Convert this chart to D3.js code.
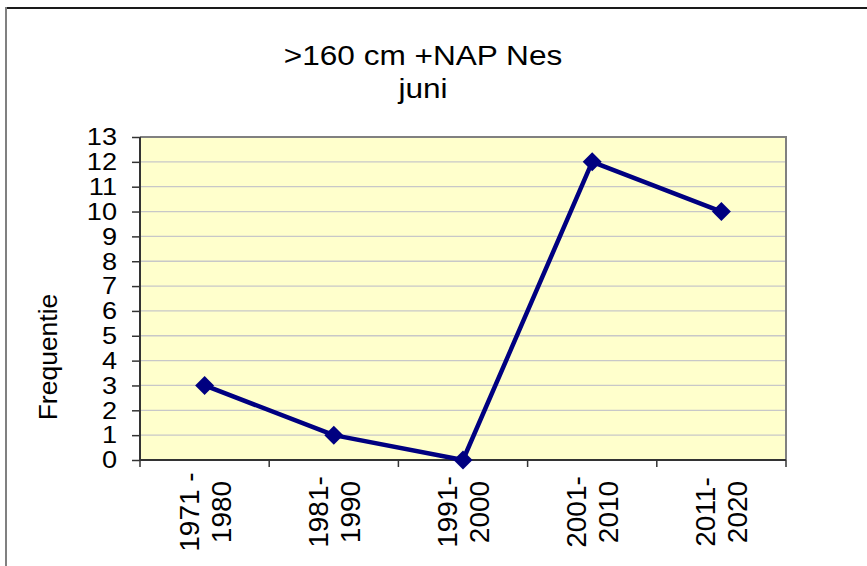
<!DOCTYPE html>
<html><head><meta charset="utf-8">
<script src="https://cdn.jsdelivr.net/npm/d3@7"></script>
<style>html,body{margin:0;padding:0;background:#fff;} text{font-family:Arial,"Liberation Sans",sans-serif;fill:#000;}</style>
</head><body><div id="chart"></div>
<script>
const titleLines = [">160 cm +NAP Nes", "juni"];
const yAxisTitle = "Frequentie";
const categories = [["1971 -","1980"],["1981-","1990"],["1991-","2000"],["2001-","2010"],["2011-","2020"]];
const values = [3, 1, 0, 12, 10];
const yTicks = d3.range(0, 14);

const W = 867, H = 566;
const plot = {left:140, right:786, top:137, bottom:460};

const svg = d3.select("#chart").append("svg").attr("width", W).attr("height", H);

// outer border (top and left visible)
svg.append("line").attr("x1",6).attr("x2",W).attr("y1",8).attr("y2",8).attr("stroke","#1a1a1a").attr("stroke-width",2);
svg.append("line").attr("x1",6).attr("x2",6).attr("y1",7).attr("y2",H).attr("stroke","#808080").attr("stroke-width",2);

const x = d3.scaleBand().domain(categories.map((d,i)=>i)).range([plot.left, plot.right]).padding(0);
const y = d3.scaleLinear().domain([0,13]).range([plot.bottom, plot.top]);

// plot background
svg.append("rect").attr("x",plot.left).attr("y",plot.top).attr("width",plot.right-plot.left).attr("height",plot.bottom-plot.top).attr("fill","#ffffcc");

// gridlines
svg.append("g").selectAll("line").data(yTicks.filter(d=>d>0 && d<13)).join("line")
  .attr("x1",plot.left).attr("x2",plot.right).attr("y1",d=>y(d)).attr("y2",d=>y(d))
  .attr("stroke","#c8c8c8").attr("stroke-width",1.3);

// top & right border
svg.append("path").attr("d",`M${plot.left},${plot.top}H${plot.right}V${plot.bottom}`).attr("fill","none").attr("stroke","#808080").attr("stroke-width",2);

// y axis
const yAxis = d3.axisLeft(y).tickValues(yTicks).tickSize(8).tickFormat("");
const gy = svg.append("g").attr("transform",`translate(${plot.left},0)`).call(yAxis);
gy.select(".domain").attr("stroke","#333").attr("stroke-width",2).attr("d",`M0,${plot.top}V${plot.bottom}`);
gy.selectAll(".tick line").attr("stroke","#333").attr("stroke-width",1.5);
svg.append("g").selectAll("text").data(yTicks).join("text")
  .attr("transform",d=>`translate(117,${y(d)}) scale(1.18,1)`)
  .attr("text-anchor","end").attr("dy","0.36em").style("font-size","23px")
  .text(d=>d);

// x axis
const xTickPos = d3.range(categories.length+1).map(i=>plot.left + i*x.bandwidth());
svg.append("line").attr("x1",plot.left).attr("x2",plot.right).attr("y1",plot.bottom).attr("y2",plot.bottom).attr("stroke","#333").attr("stroke-width",2);
svg.append("g").selectAll("line").data(xTickPos).join("line")
  .attr("x1",d=>d).attr("x2",d=>d).attr("y1",plot.bottom).attr("y2",plot.bottom+7)
  .attr("stroke","#333").attr("stroke-width",1.5);

// x labels (rotated)
const xl = svg.append("g").selectAll("g").data(categories).join("g")
  .attr("transform",(d,i)=>`translate(${x(i)+x.bandwidth()/2},512) rotate(-90)`);
xl.each(function(d){
  const g = d3.select(this);
  g.append("text").attr("text-anchor","middle").attr("y",-6).style("font-size","28px").text(d[0]);
  g.append("text").attr("text-anchor","middle").attr("y",26).style("font-size","28px").text(d[1]);
});

// line
const cx = (d,i)=>x(i)+x.bandwidth()/2;
svg.append("path").datum(values)
  .attr("d", d3.line().x(cx).y(d=>y(d)))
  .attr("fill","none").attr("stroke","#000080").attr("stroke-width",4.5).attr("stroke-linejoin","round");

// markers
const diamond = d3.symbol().type(d3.symbolSquare).size(180);
svg.append("g").selectAll("path").data(values).join("path")
  .attr("d", diamond())
  .attr("transform",(d,i)=>`translate(${cx(d,i)},${y(d)}) rotate(45)`)
  .attr("fill","#000080");

// title
svg.append("text").attr("transform","translate(423,65) scale(1.17,1)").attr("text-anchor","middle").style("font-size","27px").text(titleLines[0]);
svg.append("text").attr("transform","translate(423,98) scale(1.17,1)").attr("text-anchor","middle").style("font-size","27px").text(titleLines[1]);

// y axis title
svg.append("text").attr("transform","translate(57,357) rotate(-90)").attr("text-anchor","middle").style("font-size","26.5px").text(yAxisTitle);
</script></body></html>
